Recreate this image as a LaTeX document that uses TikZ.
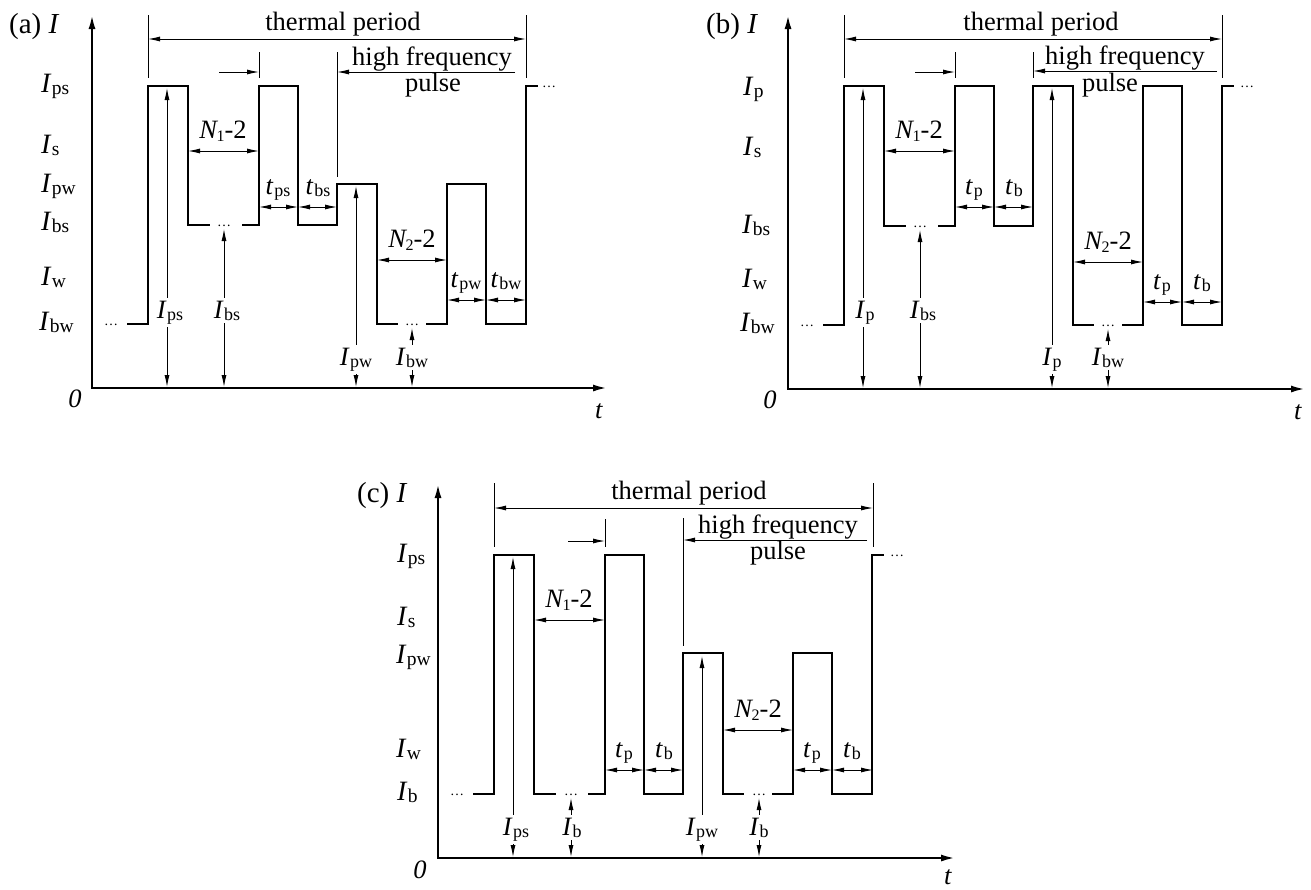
\documentclass[tikz,border=0pt]{standalone}
\usepackage{fontspec}
\setmainfont{Liberation Serif}
\usetikzlibrary{arrows.meta}
\newcommand\cI[1]{\textit{I}\kern0.3pt\raisebox{-2pt}{\fontsize{18}{18}\selectfont #1}}
\newcommand\yI[1]{{\fontsize{28}{30}\selectfont\textit{I}\kern0.3pt\raisebox{-2pt}{\fontsize{19.5}{19.5}\selectfont #1}}}
\newcommand\ct[1]{\textit{t}\kern0.8pt\raisebox{-2pt}{\fontsize{18}{18}\selectfont #1}}
\newcommand\cN[1]{\textit{N}\kern-1.5pt\raisebox{-3pt}{\fontsize{16}{16}\selectfont #1}-2}
\newcommand\smdots{{\fontsize{14}{14}\selectfont\ldots}}
\tikzset{
  wave/.style={line width=2.6pt, line join=miter},
  axisline/.style={line width=2.2pt, line join=miter, {Latex[length=14pt,width=7pt]}-{Latex[length=14pt,width=7pt]}},
  tick/.style={line width=0.9pt},
  dim/.style={line width=0.9pt, {Latex[length=12pt,width=5pt]}-{Latex[length=12pt,width=5pt]}},
  onearr/.style={line width=0.9pt, -{Latex[length=12pt,width=5pt]}},
  lab/.style={anchor=base, inner sep=0pt},
  vlab/.style={anchor=base, fill=white, inner sep=3pt},
  ylab/.style={anchor=base west, inner sep=0pt},
  ttl/.style={anchor=base west, inner sep=0pt, font=\fontsize{29}{31}\selectfont},
  dotn/.style={anchor=base, inner sep=0pt}
}
\begin{document}
\begin{tikzpicture}[x=1pt,y=-1pt,font=\fontsize{26.5}{30}\selectfont]
\useasboundingbox (0,0) rectangle (1311,889);
% ================= panel (a)
\begin{scope}
\coordinate (aY) at (92,15); \coordinate (aO) at (92,388); \coordinate (aX) at (607,388);
\draw[axisline] (aY) -- (aO) -- (aX);
\node[ttl] (atitle) at (9,33) {(a) \textit{I}};
\node[lab] (azero) at (75,407) {\textit{0}};
\node[lab] (at) at (599,418) {\textit{t}};
\node[ylab] (ay1) at (41,92) {\yI{ps}};
\node[ylab] (ay2) at (41,153) {\yI{s}};
\node[ylab] (ay3) at (41,192) {\yI{pw}};
\node[ylab] (ay4) at (41,230) {\yI{bs}};
\node[ylab] (ay5) at (41,285) {\yI{w}};
\node[ylab] (ay6) at (39,330) {\yI{bw}};
\draw[wave] (127,324) -- (148,324) -- (148,86) -- (188,86) -- (188,225) -- (210,225);
\draw[wave] (242,225) -- (259,225) -- (259,86) -- (298,86) -- (298,225) -- (337,225) -- (337,184) -- (377,184) -- (377,324) -- (398,324);
\draw[wave] (426,324) -- (447,324) -- (447,184) -- (486,184) -- (486,324) -- (526,324) -- (526,86) -- (538,86);
\node[dotn] (ad1) at (111,325) {\smdots};
\node[dotn] (ad2) at (224,226) {\smdots};
\node[dotn] (ad3) at (412,325) {\smdots};
\node[dotn] (ad4) at (549,87) {\smdots};
% thermal period
\draw[tick] (148,15) -- (148,78);
\draw[tick] (526,15) -- (526,78);
\draw[dim] (148,39) -- (526,39);
\node[lab] (ath) at (343,30) {thermal period};
% small arrow
\draw[tick] (259,52) -- (259,78);
\draw[onearr] (219,72) -- (259,72);
% high frequency pulse
\draw[tick] (337,52) -- (337,177);
\draw[onearr] (515,72) -- (337,72);
\node[lab] (ahf) at (432,65) {high frequency};
\node[lab] (apu) at (433,91) {pulse};
% dims
\draw[dim] (188,151) -- (259,151);
\node[lab] (an1) at (223,138) {\cN{1}};
\draw[dim] (259,207) -- (298,207);
\draw[dim] (298,207) -- (337,207);
\node[lab] (at1) at (278,194) {\ct{ps}};
\node[lab] (at2) at (318,194) {\ct{bs}};
\draw[dim] (377,260) -- (447,260);
\node[lab] (an2) at (412,247) {\cN{2}};
\draw[dim] (447,300) -- (486,300);
\draw[dim] (486,300) -- (526,300);
\node[lab] (at3) at (466,287) {\ct{pw}};
\node[lab] (at4) at (506,287) {\ct{bw}};
% vertical
\draw[dim] (167,88) -- (167,387);
\node[vlab] (av1) at (170,318) {\cI{ps}};
\draw[dim] (224,229) -- (224,387);
\node[vlab] (av2) at (227,318) {\cI{bs}};
\draw[dim] (356,186) -- (356,387);
\node[vlab] (av3) at (356,365) {\cI{pw}};
\draw[dim] (412,328) -- (412,387);
\node[vlab] (av4) at (412,365) {\cI{bw}};
\end{scope}
% ================= panel (b)
\begin{scope}[shift={(696,0)}]
\coordinate (bY) at (92,15); \coordinate (bO) at (92,389); \coordinate (bX) at (609,389);
\draw[axisline] (bY) -- (bO) -- (bX);
\node[ttl] (btitle) at (10,33) {(b) \textit{I}};
\node[lab] (bzero) at (74,408) {\textit{0}};
\node[lab] (bt) at (602,419) {\textit{t}};
\node[ylab] (by1) at (47,95) {\yI{p}};
\node[ylab] (by2) at (47,155) {\yI{s}};
\node[ylab] (by4) at (46,233) {\yI{bs}};
\node[ylab] (by5) at (46,287) {\yI{w}};
\node[ylab] (by6) at (44,331) {\yI{bw}};
\draw[wave] (127,325) -- (148,325) -- (148,86) -- (188,86) -- (188,226) -- (210,226);
\draw[wave] (242,226) -- (259,226) -- (259,86) -- (298,86) -- (298,226) -- (337,226) -- (337,86) -- (377,86) -- (377,325) -- (398,325);
\draw[wave] (426,325) -- (447,325) -- (447,86) -- (486,86) -- (486,325) -- (526,325) -- (526,86) -- (538,86);
\node[dotn] (bd1) at (111,326) {\smdots};
\node[dotn] (bd2) at (224,227) {\smdots};
\node[dotn] (bd3) at (412,326) {\smdots};
\node[dotn] (bd4) at (551,87) {\smdots};
\draw[tick] (148,15) -- (148,78);
\draw[tick] (526,15) -- (526,78);
\draw[dim] (148,39) -- (526,39);
\node[lab] (bth) at (345,30) {thermal period};
\draw[tick] (259,52) -- (259,78);
\draw[onearr] (219,72) -- (259,72);
\draw[tick] (337,52) -- (337,78);
\draw[onearr] (521,71) -- (337,71);
\node[lab] (bhf) at (429,64) {high frequency};
\node[lab] (bpu) at (414,91) {pulse};
\draw[dim] (188,151) -- (259,151);
\node[lab] (bn1) at (223,138) {\cN{1}};
\draw[dim] (259,207) -- (298,207);
\draw[dim] (298,207) -- (337,207);
\node[lab] (bt1) at (278,194) {\ct{p}};
\node[lab] (bt2) at (318,194) {\ct{b}};
\draw[dim] (377,262) -- (447,262);
\node[lab] (bn2) at (412,249) {\cN{2}};
\draw[dim] (447,302) -- (486,302);
\draw[dim] (486,302) -- (526,302);
\node[lab] (bt3) at (466,289) {\ct{p}};
\node[lab] (bt4) at (506,289) {\ct{b}};
\draw[dim] (167,88) -- (167,388);
\node[vlab] (bv1) at (169,318) {\cI{p}};
\draw[dim] (224,230) -- (224,388);
\node[vlab] (bv2) at (227,318) {\cI{bs}};
\draw[dim] (356,88) -- (356,388);
\node[vlab] (bv3) at (356,365) {\cI{p}};
\draw[dim] (412,329) -- (412,388);
\node[vlab] (bv4) at (412,365) {\cI{bw}};
\end{scope}
% ================= panel (c)
\begin{scope}[shift={(346,469)}]
\coordinate (cY) at (92,15); \coordinate (cO) at (92,389); \coordinate (cX) at (609,389);
\draw[axisline] (cY) -- (cO) -- (cX);
\node[ttl] (ctitle) at (11,33) {(c) \textit{I}};
\node[lab] (czero) at (74,409) {\textit{0}};
\node[lab] (ct) at (602,415) {\textit{t}};
\node[ylab] (cy1) at (51,93) {\yI{ps}};
\node[ylab] (cy2) at (51,156) {\yI{s}};
\node[ylab] (cy3) at (50,194) {\yI{pw}};
\node[ylab] (cy5) at (50,288) {\yI{w}};
\node[ylab] (cy6) at (51,331) {\yI{b}};
\draw[wave] (127,325) -- (148,325) -- (148,86) -- (188,86) -- (188,325) -- (210,325);
\draw[wave] (242,325) -- (259,325) -- (259,86) -- (298,86) -- (298,325) -- (337,325) -- (337,184) -- (377,184) -- (377,325) -- (398,325);
\draw[wave] (426,325) -- (447,325) -- (447,184) -- (486,184) -- (486,325) -- (526,325) -- (526,86) -- (538,86);
\node[dotn] (cd1) at (111,326) {\smdots};
\node[dotn] (cd2) at (225,326) {\smdots};
\node[dotn] (cd3) at (413,326) {\smdots};
\node[dotn] (cd4) at (551,87) {\smdots};
\draw[tick] (148,14) -- (148,78);
\draw[tick] (527,14) -- (527,78);
\draw[dim] (148,39) -- (527,39);
\node[lab] (cth) at (343,30) {thermal period};
\draw[tick] (259,50) -- (259,78);
\draw[onearr] (222,72) -- (259,72);
\draw[tick] (337,49) -- (337,177);
\draw[onearr] (521,71) -- (337,71);
\node[lab] (chf) at (432,64) {high frequency};
\node[lab] (cpu) at (432,90) {pulse};
\draw[dim] (188,151) -- (259,151);
\node[lab] (cn1) at (223,138) {\cN{1}};
\draw[dim] (259,301) -- (298,301);
\draw[dim] (298,301) -- (337,301);
\node[lab] (ct1) at (278,288) {\ct{p}};
\node[lab] (ct2) at (318,288) {\ct{b}};
\draw[dim] (377,261) -- (447,261);
\node[lab] (cn2) at (412,248) {\cN{2}};
\draw[dim] (447,301) -- (486,301);
\draw[dim] (486,301) -- (527,301);
\node[lab] (ct3) at (466,288) {\ct{p}};
\node[lab] (ct4) at (506,288) {\ct{b}};
\draw[dim] (167,88) -- (167,388);
\node[vlab] (cv1) at (170,366) {\cI{ps}};
\draw[dim] (225,329) -- (225,388);
\node[vlab] (cv2) at (226,366) {\cI{b}};
\draw[dim] (356,187) -- (356,388);
\node[vlab] (cv3) at (356,366) {\cI{pw}};
\draw[dim] (413,329) -- (413,388);
\node[vlab] (cv4) at (413,366) {\cI{b}};
\end{scope}
\end{tikzpicture}
\end{document}
